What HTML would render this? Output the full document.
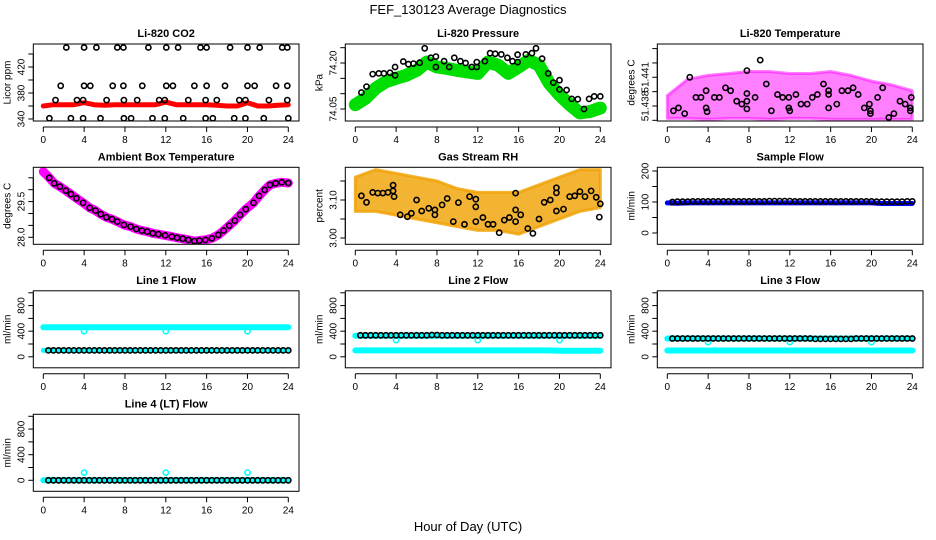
<!DOCTYPE html>
<html><head><meta charset="utf-8"><style>
html,body{margin:0;padding:0;background:#fff;}
svg{display:block;font-family:"Liberation Sans",Arial,sans-serif;}
</style></head><body>
<svg id="chart" width="936" height="540" viewBox="0 0 936 540" xmlns="http://www.w3.org/2000/svg">
<text x="468" y="14" text-anchor="middle" font-size="13">FEF_130123  Average Diagnostics</text>
<text x="468" y="531" text-anchor="middle" font-size="13">Hour of Day (UTC)</text>
</svg>
<script>
// ---- data ----
const xTicks = [0,4,8,12,16,20,24];
const hourly = [0,1,2,3,4,5,6,7,8,9,10,11,12,13,14,15,16,17,18,19,20,21,22,23,24];
const halfHours = [0.5,1,1.5,2,2.5,3,3.5,4,4.5,5,5.5,6,6.5,7,7.5,8,8.5,9,9.5,10,10.5,11,11.5,12,12.5,13,13.5,14,14.5,15,15.5,16,16.5,17,17.5,18,18.5,19,19.5,20,20.5,21,21.5,22,22.5,23,23.5,24];

const co2Line = [360,362,362,362,365,362,361,362,362,362,362,362,366,362,362,362,362,361,360,360,365,360,360,361,362];
const co2Hours = [2.25,4,5.2,7.25,7.85,10.3,12.05,13.2,15.4,16,18.3,20,21.2,23.4,23.9, 1.7,4,4.6,6.8,7.85,9.7,12.05,12.7,14.8,16,17.8,20,20.7,22.8,23.9, 1.2,3.3,3.9,6.2,7.9,9.2,11.35,11.9,14.2,15.9,17,19.2,19.8,22.1,23.9, 0.6,2.7,3.9,5.6,7.9,8.6,10.7,11.9,13.7,15.9,16.6,18.7,19.8,21.6,24];
const co2Vals = [450,450,450,450,450,450,450,450,450,450,450,450,450,450,450, 391,391,391,391,391,391,391,391,391,391,391,391,391,391,391, 369,369,369,369,369,369,369,369,369,369,369,369,369,369,369, 341,341,341,341,341,341,341,341,341,341,341,341,341,341,341];

const presBand = [74.064,74.085,74.118,74.139,74.150,74.160,74.176,74.203,74.187,74.182,74.176,74.171,74.166,74.203,74.193,74.166,74.187,74.209,74.193,74.134,74.096,74.064,74.037,74.042,74.053];
const presHours = [0.6,1.1,1.7,2.3,2.8,3.4,3.9,3.9,4.7,5.2,5.7,6.3,6.8,7.4,7.9,7.9,8.7,9.2,9.7,10.3,10.8,11.4,11.9,11.9,12.7,13.2,13.7,14.3,14.9,15.4,15.9,15.9,16.7,17.3,17.7,18.3,18.9,19.4,20.0,20.0,20.7,21.2,21.8,22.4,22.9,23.4,24.0];
const presVals = [74.104,74.123,74.164,74.166,74.166,74.168,74.187,74.160,74.205,74.196,74.198,74.201,74.248,74.217,74.221,74.187,74.206,74.187,74.217,74.206,74.200,74.187,74.187,74.203,74.206,74.232,74.230,74.228,74.217,74.206,74.227,74.203,74.228,74.232,74.248,74.214,74.166,74.136,74.144,74.114,74.112,74.083,74.082,74.050,74.083,74.091,74.091];

const tempBandHours = [0,2,4,6,8,10,12,14,16,18,20,22,24];
const tempLow = [51.4367,51.4367,51.4366,51.4367,51.4367,51.4366,51.4367,51.4367,51.4366,51.4366,51.4366,51.4366,51.4366];
const tempHigh = [51.4391,51.4408,51.4412,51.4414,51.4416,51.4416,51.4414,51.4414,51.4416,51.4412,51.4406,51.4402,51.4396];
const tempHours = [0.6,1.1,1.7,2.2,2.8,3.3,3.8,3.8,3.9,4.6,5.1,5.7,6.2,6.8,7.3,7.8,7.8,7.8,7.8,8.6,9.1,9.7,10.2,10.8,11.3,11.9,11.9,12.0,12.6,13.1,13.7,14.2,14.7,15.3,15.8,15.8,15.8,16.6,17.1,17.7,18.2,18.7,19.3,19.8,19.9,19.9,20.6,21.1,21.7,22.2,22.8,23.3,23.8,23.8,23.9];
const tempVals = [51.4375,51.4378,51.4372,51.4410,51.4389,51.4389,51.4396,51.4378,51.4374,51.4389,51.4389,51.4399,51.4396,51.4385,51.4382,51.4377,51.4393,51.4385,51.4417,51.4389,51.4428,51.4403,51.4375,51.4392,51.4389,51.4389,51.4378,51.4375,51.4392,51.4382,51.4382,51.4389,51.4392,51.4403,51.4396,51.4392,51.4378,51.4382,51.4396,51.4396,51.4399,51.4392,51.4378,51.4382,51.4375,51.4372,51.4389,51.4399,51.4368,51.4372,51.4385,51.4382,51.4378,51.4375,51.4389];

const ambHours = [0,0.59,1.07,1.63,2.21,2.70,3.25,3.90,4.55,5.11,5.63,6.18,6.73,7.25,7.90,8.55,9.11,9.66,10.18,10.73,11.28,11.93,12.59,13.11,13.66,14.21,14.80,15.28,15.87,16.52,17.14,17.66,18.21,18.76,19.28,19.84,20.59,21.14,21.69,22.21,22.76,23.35,24.0];
const ambVals = [30.76,30.50,30.27,30.13,29.96,29.81,29.64,29.45,29.24,29.12,28.97,28.84,28.76,28.66,28.52,28.45,28.35,28.28,28.24,28.17,28.13,28.08,28.03,27.98,27.94,27.89,27.84,27.86,27.89,27.96,28.10,28.28,28.49,28.70,28.94,29.18,29.45,29.74,29.99,30.20,30.27,30.31,30.28];

const rhBandHours = [0,2,4,6,8,10,12,14,16,18,20,22,24];
const rhHigh = [3.16,3.18,3.17,3.16,3.15,3.13,3.12,3.12,3.12,3.14,3.16,3.18,3.18];
const rhLow = [3.07,3.07,3.06,3.05,3.04,3.03,3.02,3.02,3.01,3.03,3.05,3.07,3.08];
const rhHours = [0.6,1.1,1.7,2.2,2.7,3.2,3.7,3.7,3.8,4.4,5.1,5.5,6.0,6.5,7.2,7.8,7.8,8.5,9.0,9.6,10.1,10.7,11.2,11.8,11.8,11.8,12.5,13.0,13.5,14.1,14.6,15.1,15.7,15.7,15.7,16.2,16.9,17.4,18.0,18.5,19.1,19.7,19.7,19.7,20.4,21.0,21.5,22.0,22.5,23.1,23.6,23.9,24.0];
const rhVals = [3.111,3.094,3.120,3.118,3.118,3.120,3.139,3.124,3.109,3.061,3.056,3.065,3.100,3.071,3.078,3.074,3.061,3.087,3.104,3.043,3.093,3.036,3.109,3.082,3.102,3.043,3.054,3.036,3.036,3.014,3.047,3.054,3.074,3.043,3.118,3.061,3.025,3.012,3.050,3.094,3.100,3.071,3.132,3.119,3.076,3.109,3.111,3.122,3.109,3.124,3.107,3.055,3.090];

const sampleBlue = [97,96,97,97,97,97,97,97,97,97,97,97,97,97,97,97,97,97,97,97,97,95,95,95,95];
const sampleBlack = [100,101,101,101,102,102,102,102,102,102,102,102,102,102,102,102,102,102,102,103,103,103,103,103,102,102,102,102,102,102,102,102,102,102,102,102,102,102,102,102,101,101,101,101,101,101,102,102];

const line1High = [460,460,460,460,460,460,460,460,460,460,460,460,460,460,460,460,460,460,460,460,460,460,460,460,460];
const line1Low = [100,100,100,100,100,100,100,100,100,100,100,100,100,100,100,100,100,100,100,100,100,100,100,100,100];
const line1Black = [100,100,100,100,100,100,100,100,100,100,100,100,100,100,100,100,100,100,100,100,100,100,100,100,100,100,100,100,100,100,100,100,100,100,100,100,100,100,100,100,100,100,100,100,100,100,100,100];
const dipHours = [4,12,20];
const line1Dips = [400,400,400];

const line2High = [330,330,330,330,330,330,330,330,330,330,330,330,330,330,330,330,330,330,330,330,330,330,330,330,330];
const line2Low = [100,100,100,100,100,100,100,100,100,100,100,100,100,100,100,100,100,100,100,100,95,95,95,95,95];
const line2Black = [335,335,335,335,335,335,335,335,335,335,335,335,335,335,340,340,335,335,335,335,335,335,335,335,335,335,335,335,335,335,335,335,335,335,335,335,335,335,335,335,335,335,335,335,335,335,335,335];
const line2Dips = [260,260,260];

const line3High = [285,285,285,285,285,285,285,285,285,285,285,285,285,285,285,285,285,285,285,285,285,285,285,285,285];
const line3Low = [98,98,98,98,98,98,98,98,98,98,98,98,98,98,98,98,98,98,98,98,98,98,98,98,98];
const line3Black = [285,285,285,285,285,285,285,285,285,285,285,285,285,285,285,285,285,285,285,285,285,285,285,285,285,285,285,285,280,280,280,280,280,280,280,280,285,285,285,285,285,285,285,285,285,285,285,285];
const line3Dips = [230,230,230];

const line4Cyan = [0,0,0,0,0,0,0,0,0,0,0,0,0,0,0,0,0,0,0,0,0,0,0,0,0];
const line4Black = [0,0,0,0,0,0,0,0,0,0,0,0,0,0,0,0,0,0,0,0,0,0,0,0,0,0,0,0,0,0,0,0,0,0,0,0,0,0,0,0,0,0,0,0,0,0,0,0];
const line4Spikes = [120,120,120];

const flowTicks = [0,200,400,600,800,1000];
const flowTickLabels = ["0","","400","","800",""];

// ---- drawing ----
const NS = "http://www.w3.org/2000/svg";
const svg = document.getElementById('chart');
const colLeft = [33.3,345.3,657.3], boxW = 265.7;
const rowTop = [44,167.3,290.8,414.3], boxH = 77;
function mk(tag, attrs, parent){ const e=document.createElementNS(NS,tag); for(const k in attrs) e.setAttribute(k,attrs[k]); (parent||svg).appendChild(e); return e; }

function panel(cfg){
  const g = mk('g',{});
  
  
  const L = colLeft[cfg.col], T = rowTop[cfg.row], B = T+boxH;
  const sx = h => L + 10 + h*245/24;
  const sy = v => B - (v - cfg.ymin)/(cfg.ymax-cfg.ymin)*boxH;
  const clipId = 'clip-'+cfg.name;
  const cp = mk('clipPath',{id:clipId},g); mk('rect',{x:L,y:T,width:boxW,height:boxH},cp);
  const plot = mk('g',{'clip-path':'url(#'+clipId+')'},g);
  
  
  cfg.draw(plot, sx, sy);
  const box = mk('rect',{x:L,y:T,width:boxW,height:boxH,fill:'none',stroke:'#000','stroke-width':1},g);
  
  
  const title = mk('text',{x:L+boxW/2,y:T-7,'text-anchor':'middle','font-size':11,'font-weight':'bold'},g);
  title.textContent = cfg.title;
  
  
  const xa = mk('g',{},g);
  
  
  mk('line',{x1:sx(0),x2:sx(24),y1:B+6,y2:B+6,stroke:'#000'},xa);
  xTicks.forEach(t=>{
    mk('line',{x1:sx(t),x2:sx(t),y1:B+6,y2:B+11,stroke:'#000'},xa);
    const tx = mk('text',{x:sx(t),y:B+22,'text-anchor':'middle','font-size':10},xa); tx.textContent=t;
  });
  const ya = mk('g',{},g);
  
  
  const yt = cfg.ticks;
  mk('line',{x1:L,x2:L,y1:sy(yt[0]),y2:sy(yt[yt.length-1]),stroke:'#000'},ya);
  yt.forEach((t,i)=>{
    mk('line',{x1:L-5,x2:L,y1:sy(t),y2:sy(t),stroke:'#000'},ya);
    if(cfg.labels[i]){
      const x=L-9, y=sy(t);
      const tx = mk('text',{x:x,y:y,'text-anchor':'middle','font-size':10,transform:'rotate(-90 '+x+' '+y+')'},ya);
      tx.textContent = cfg.labels[i];
    }
  });
  const yl = mk('text',{x:L-23,y:T+boxH/2,'text-anchor':'middle','font-size':10,transform:'rotate(-90 '+(L-23)+' '+(T+boxH/2)+')'},g);
  yl.textContent = cfg.ylab;
  
  
}
function polyline(p, xs, ys, sx, sy, color, w, nm){
  const pts = xs.map((h,i)=>sx(h).toFixed(1)+','+sy(ys[i]).toFixed(1)).join(' ');
  const e = mk('polyline',{points:pts,fill:'none',stroke:color,'stroke-width':w,'stroke-linejoin':'round','stroke-linecap':'round'},p);
  
  
}
function band(p, xs, lo, hi, sx, sy, color, op, nm){
  const pts = xs.map((h,i)=>sx(h).toFixed(1)+','+sy(hi[i]).toFixed(1)).concat(xs.slice().reverse().map((h,j)=>{const i=xs.length-1-j;return sx(h).toFixed(1)+','+sy(lo[i]).toFixed(1);})).join(' ');
  const e = mk('polygon',{points:pts,fill:color,'fill-opacity':op,stroke:color,'stroke-width':3,'stroke-opacity':op,'stroke-linejoin':'round'},p);
  
  
}
function circles(p, xs, ys, sx, sy, color, nm){
  const g = mk('g',{},p);
  
  
  xs.forEach((h,i)=>{
    const c = mk('circle',{cx:sx(h).toFixed(1),cy:sy(ys[i]).toFixed(1),r:2.6,fill:'none',stroke:color,'stroke-width':1.6},g);
    
    
  });
}

panel({name:'co2-panel',title:'Li-820 CO2',ylab:'Licor ppm',col:0,row:0,ymin:336.9,ymax:455.4,
  ticks:[340,360,380,400,420,440],labels:['340','','380','','420',''],
  draw:(p,sx,sy)=>{ polyline(p,hourly,co2Line,sx,sy,'#ff0000',5,'co2-raw-series'); circles(p,co2Hours,co2Vals,sx,sy,'#000','co2-average-points'); }});
panel({name:'pressure-panel',title:'Li-820 Pressure',ylab:'kPa',col:1,row:0,ymin:74.0109,ymax:74.262,
  ticks:[74.05,74.10,74.15,74.20,74.25],labels:['74.05','','','74.20',''],
  draw:(p,sx,sy)=>{ polyline(p,hourly,presBand,sx,sy,'#00dd00',13,'pressure-raw-series'); circles(p,presHours,presVals,sx,sy,'#000','pressure-average-points'); }});
panel({name:'temperature-panel',title:'Li-820 Temperature',ylab:'degrees C',col:2,row:0,ymin:51.43643,ymax:51.44448,
  ticks:[51.4365,51.438,51.4395,51.441,51.4425,51.444],labels:['','51.438','','51.441','',''],
  draw:(p,sx,sy)=>{ band(p,tempBandHours,tempLow,tempHigh,sx,sy,'#ff00ff',0.5,'temperature-raw-cloud'); circles(p,tempHours,tempVals,sx,sy,'#000','temperature-average-points'); }});
panel({name:'ambient-panel',title:'Ambient Box Temperature',ylab:'degrees C',col:0,row:1,ymin:27.706,ymax:30.94,
  ticks:[28,28.5,29,29.5,30,30.5],labels:['28.0','','','29.5','',''],
  draw:(p,sx,sy)=>{ polyline(p,ambHours,ambVals,sx,sy,'#ff00ff',9,'ambient-raw-series'); circles(p,ambHours.slice(1),ambVals.slice(1),sx,sy,'#000','ambient-average-points'); }});
panel({name:'rh-panel',title:'Gas Stream RH',ylab:'percent',col:1,row:1,ymin:2.9834,ymax:3.186,
  ticks:[3.00,3.05,3.10,3.15],labels:['3.00','','3.10',''],
  draw:(p,sx,sy)=>{ band(p,rhBandHours,rhLow,rhHigh,sx,sy,'#f0a000',0.8,'rh-raw-cloud'); circles(p,rhHours,rhVals,sx,sy,'#000','rh-average-points'); }});
panel({name:'sample-flow-panel',title:'Sample Flow',ylab:'ml/min',col:2,row:1,ymin:-36.5,ymax:211.9,
  ticks:[0,50,100,150,200],labels:['0','','100','','200'],
  draw:(p,sx,sy)=>{ polyline(p,hourly,sampleBlue,sx,sy,'#0000ff',5,'sample-flow-raw'); circles(p,halfHours,sampleBlack,sx,sy,'#000','sample-flow-average-points'); }});
panel({name:'line1-panel',title:'Line 1 Flow',ylab:'ml/min',col:0,row:2,ymin:-172,ymax:1031,ticks:flowTicks,labels:flowTickLabels,
  draw:(p,sx,sy)=>{ polyline(p,hourly,line1High,sx,sy,'#00ffff',6,'line1-high-raw'); circles(p,dipHours,line1Dips,sx,sy,'#00ffff','line1-dips'); polyline(p,hourly,line1Low,sx,sy,'#00ffff',5,'line1-low-raw'); circles(p,halfHours,line1Black,sx,sy,'#000','line1-average-points'); }});
panel({name:'line2-panel',title:'Line 2 Flow',ylab:'ml/min',col:1,row:2,ymin:-172,ymax:1031,ticks:flowTicks,labels:flowTickLabels,
  draw:(p,sx,sy)=>{ polyline(p,hourly,line2High,sx,sy,'#00ffff',6,'line2-high-raw'); circles(p,dipHours,line2Dips,sx,sy,'#00ffff','line2-dips'); polyline(p,hourly,line2Low,sx,sy,'#00ffff',6,'line2-low-raw'); circles(p,halfHours,line2Black,sx,sy,'#000','line2-average-points'); }});
panel({name:'line3-panel',title:'Line 3 Flow',ylab:'ml/min',col:2,row:2,ymin:-172,ymax:1031,ticks:flowTicks,labels:flowTickLabels,
  draw:(p,sx,sy)=>{ polyline(p,hourly,line3High,sx,sy,'#00ffff',6,'line3-high-raw'); circles(p,dipHours,line3Dips,sx,sy,'#00ffff','line3-dips'); polyline(p,hourly,line3Low,sx,sy,'#00ffff',6,'line3-low-raw'); circles(p,halfHours,line3Black,sx,sy,'#000','line3-average-points'); }});
panel({name:'line4-panel',title:'Line 4 (LT) Flow',ylab:'ml/min',col:0,row:3,ymin:-172,ymax:1031,ticks:flowTicks,labels:flowTickLabels,
  draw:(p,sx,sy)=>{ polyline(p,hourly,line4Cyan,sx,sy,'#00ffff',6,'line4-raw'); circles(p,dipHours,line4Spikes,sx,sy,'#00ffff','line4-spikes'); circles(p,halfHours,line4Black,sx,sy,'#000','line4-average-points'); }});
</script>
</body></html>
